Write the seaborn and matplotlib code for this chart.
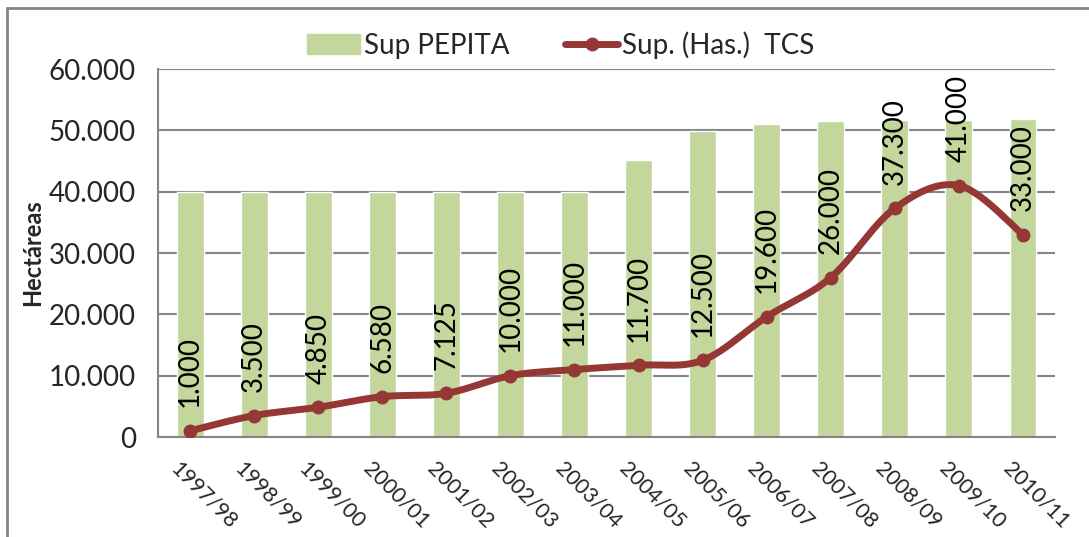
import numpy as np
import matplotlib
matplotlib.use("Agg")
import matplotlib.pyplot as plt
import seaborn as sns
from matplotlib.lines import Line2D
from matplotlib.transforms import ScaledTranslation

# data
campanas = ["1997/98", "1998/99", "1999/00", "2000/01", "2001/02", "2002/03", "2003/04",
            "2004/05", "2005/06", "2006/07", "2007/08", "2008/09", "2009/10", "2010/11"]
sup_pepita = [40000, 40000, 40000, 40000, 40000, 40000, 40000,
              45100, 49900, 51100, 51500, 51700, 51700, 51800]
sup_tcs = [1000, 3500, 4850, 6580, 7125, 10000, 11000,
           11700, 12500, 19600, 26000, 37300, 41000, 33000]

verde = "#C3D69B"
rojo = "#953735"
gris = "#868686"


def miles(v):
    return f"{v:,.0f}".replace(",", ".")


def suavizar(xs, ys, sx, sy, n=30):
    # curva suavizada tipo Excel (bezier catmull-rom)
    P = np.column_stack([np.asarray(xs, float) * sx, np.asarray(ys, float) * sy])
    out = []
    for i in range(len(P) - 1):
        p0 = P[i - 1] if i > 0 else P[i]
        p1, p2 = P[i], P[i + 1]
        p3 = P[i + 2] if i + 2 < len(P) else P[i + 1]
        b1 = p1 + (p2 - p0) / 6
        b2 = p2 - (p3 - p1) / 6
        t = np.linspace(0, 1, n)[:, None]
        seg = (1 - t) ** 3 * p1 + 3 * (1 - t) ** 2 * t * b1 + 3 * (1 - t) * t ** 2 * b2 + t ** 3 * p2
        out.append(seg if i == 0 else seg[1:])
    out = np.vstack(out)
    return out[:, 0] / sx, out[:, 1] / sy


sns.set_style("white")
plt.rcParams['font.family'] = ['Lato', 'DejaVu Sans']

fig = plt.figure(figsize=(10.89, 5.37), dpi=100)
ax = fig.add_axes([0.1451, 0.1862, 0.9688 - 0.1451, 0.8715 - 0.1862])

sns.barplot(x=campanas, y=sup_pepita, color=verde, width=0.42, saturation=1,
            ax=ax, zorder=2)

pos = np.arange(len(campanas))
cx, cy = suavizar(pos, sup_tcs, 64.0, 368.0 / 60000)
ax.plot(cx, cy, color=rojo, lw=5, solid_capstyle="round", zorder=3)
ax.plot(pos, sup_tcs, "o", color=rojo, ms=9, zorder=4)

for x, v in zip(pos, sup_tcs):
    ax.annotate(miles(v), (x, v), xytext=(0, 17), textcoords="offset points",
                rotation=90, ha="center", va="bottom", fontsize=20, color="black")

ax.set_xlim(-0.5, len(campanas) - 0.5)
ax.set_ylim(0, 60000)
ax.set_yticks(range(0, 60001, 10000))
ax.set_yticklabels([miles(v) for v in range(0, 60001, 10000)], fontsize=20)
ax.yaxis.grid(True, color=gris, lw=1.5, zorder=0)
ax.set_axisbelow(True)

ax.set_xticks(pos)
ax.set_xticklabels(campanas, rotation=-45, ha="left", va="top",
                   rotation_mode="anchor", fontsize=15.5)
ax.tick_params(axis="x", length=0, pad=15)
desplaza = ScaledTranslation(-9 / 100, 0, fig.dpi_scale_trans)
for lbl in ax.get_xticklabels():
    lbl.set_transform(lbl.get_transform() + desplaza)
ax.set_xticks(np.arange(-0.5, len(campanas), 1), minor=True)
ax.tick_params(axis="x", which="minor", length=7, width=1.5, color=gris, direction="out")
ax.tick_params(axis="y", length=8, width=1.5, color=gris, direction="out", pad=8)

for s in ["top", "right"]:
    ax.spines[s].set_visible(False)
for s in ["left", "bottom"]:
    ax.spines[s].set_color(gris)
    ax.spines[s].set_linewidth(1.5)

ax.set_ylabel("Hectáreas", fontsize=17, fontweight="bold")
ax.yaxis.set_label_coords(-0.127, 0.5)

handles = [plt.Rectangle((0, 0), 1, 1, color=verde),
           Line2D([], [], color=rojo, lw=5, marker="o", ms=9)]
fig.legend(handles, ["Sup PEPITA", "Sup. (Has.)  TCS"], loc="center",
           bbox_to_anchor=(0.515, 0.916), ncol=2, frameon=False, fontsize=20,
           handlelength=1.9, handleheight=0.7, handletextpad=0.15, columnspacing=2.0)

# borde del area del grafico
fig.add_artist(Line2D([7 / 1089, 1], [1 - 8 / 537, 1 - 8 / 537], color=gris, lw=2))
fig.add_artist(Line2D([7 / 1089, 7 / 1089], [0, 1 - 8 / 537], color=gris, lw=2))

fig.savefig("out.png", dpi=100)
